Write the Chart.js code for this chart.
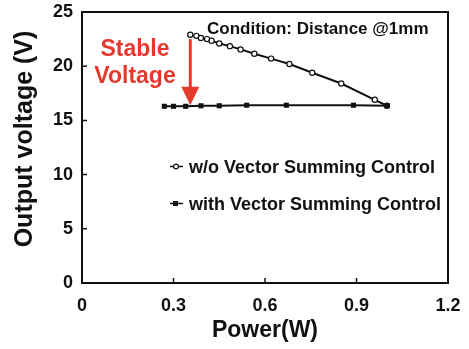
<!DOCTYPE html>
<html>
<head>
<meta charset="utf-8">
<script src="https://cdn.jsdelivr.net/npm/chart.js@4.4.1/dist/chart.umd.min.js"></script>
<style>
  html, body { margin: 0; padding: 0; background: #fff; }
  #wrap { width: 469px; height: 349px; }
</style>
</head>
<body>
<div id="wrap"><canvas id="chart" width="469" height="349"></canvas></div>
<script>
// Output voltage vs. power, with and without vector summing control
const FONT = '"Liberation Sans", Arial, Helvetica, sans-serif';
const INK = '#111';
const RED = '#e5392d';

// w/o Vector Summing Control (open circles)
const woPower   = [0.355, 0.375, 0.39, 0.41, 0.425, 0.45, 0.485, 0.52, 0.565, 0.62, 0.68, 0.755, 0.85, 0.96, 1.0];
const woVoltage = [22.9, 22.8, 22.6, 22.5, 22.35, 22.1, 21.85, 21.55, 21.15, 20.7, 20.2, 19.4, 18.4, 16.9, 16.35];

// with Vector Summing Control (filled squares)
const withPower   = [0.27, 0.30, 0.34, 0.39, 0.45, 0.54, 0.67, 0.89, 1.0];
const withVoltage = [16.3, 16.3, 16.3, 16.35, 16.35, 16.4, 16.4, 16.4, 16.35];

const xTicks = [0, 0.3, 0.6, 0.9, 1.2];
const yTicks = [0, 5, 10, 15, 20, 25];

// "Stable Voltage" arrow, in data units
const arrowAt = { x: 0.355, from: 22.5, head: 18.1, to: 16.4 };

const toPoints = (xs, ys) => xs.map((x, i) => ({ x, y: ys[i] }));

// frame, inward ticks, arrow (under the lines)
const frame = {
  id: 'frame',
  beforeDatasetsDraw(chart) {
    const { ctx, chartArea: a, scales: { x, y } } = chart;
    ctx.save();
    ctx.strokeStyle = INK;
    ctx.lineWidth = 2;
    ctx.strokeRect(a.left, a.top, a.right - a.left, a.bottom - a.top);

    ctx.lineWidth = 1.5;
    ctx.beginPath();
    xTicks.forEach(v => {
      const px = x.getPixelForValue(v);
      ctx.moveTo(px, a.bottom); ctx.lineTo(px, a.bottom - 5);
    });
    yTicks.forEach(v => {
      const py = y.getPixelForValue(v);
      ctx.moveTo(a.left, py); ctx.lineTo(a.left + 5, py);
    });
    ctx.stroke();

    // red arrow
    const ax = x.getPixelForValue(arrowAt.x);
    const y0 = y.getPixelForValue(arrowAt.from);
    const yh = y.getPixelForValue(arrowAt.head);
    const y1 = y.getPixelForValue(arrowAt.to);
    ctx.fillStyle = RED;
    ctx.fillRect(ax - 1.5, y0, 3, yh - y0 + 1);
    ctx.beginPath();
    ctx.moveTo(ax - 9, yh); ctx.lineTo(ax + 9, yh); ctx.lineTo(ax, y1);
    ctx.closePath();
    ctx.fill();
    ctx.restore();
  }
};

// texts: titles, condition note, legend, annotation
const labels = {
  id: 'labels',
  afterDraw(chart) {
    const { ctx } = chart;
    ctx.save();
    ctx.fillStyle = INK;
    ctx.textBaseline = 'alphabetic';

    // axis titles
    ctx.font = `bold 23px ${FONT}`;
    ctx.textAlign = 'center';
    ctx.fillText('Power(W)', 265, 337);
    ctx.save();
    ctx.font = `bold 25px ${FONT}`;
    ctx.translate(32, 139);
    ctx.rotate(-Math.PI / 2);
    ctx.fillText('Output voltage (V)', 0, 0);
    ctx.restore();

    // condition note
    ctx.font = `bold 17px ${FONT}`;
    ctx.textAlign = 'left';
    ctx.fillText('Condition: Distance @1mm', 207, 34);

    // legend
    ctx.font = `bold 18px ${FONT}`;
    const rows = [[0, 173], [1, 210]];
    rows.forEach(([i, by]) => {
      const ds = chart.data.datasets[i];
      const cy = by - 6.5;
      ctx.strokeStyle = INK;
      ctx.lineWidth = 1.5;
      ctx.beginPath(); ctx.moveTo(170, cy); ctx.lineTo(183, cy); ctx.stroke();
      if (ds.pointStyle === 'circle') {
        ctx.fillStyle = '#fff';
        ctx.beginPath(); ctx.arc(176, cy, 2.4, 0, Math.PI * 2); ctx.fill();
        ctx.lineWidth = 1.2; ctx.stroke();
      } else {
        ctx.fillStyle = INK;
        ctx.fillRect(173, cy - 2.5, 5, 5);
      }
      ctx.fillStyle = INK;
      ctx.fillText(ds.label, 189, by);
    });

    // annotation
    ctx.fillStyle = RED;
    ctx.font = `bold 23px ${FONT}`;
    ctx.textAlign = 'center';
    ctx.fillText('Stable', 135, 56);
    ctx.fillText('Voltage', 135, 83);
    ctx.restore();
  }
};

const tickFont = { family: FONT, size: 18, weight: 'bold' };

new Chart(document.getElementById('chart'), {
  type: 'scatter',
  data: {
    datasets: [
      {
        label: 'w/o Vector Summing Control',
        data: toPoints(woPower, woVoltage),
        showLine: true,
        order: 1,
        borderColor: INK,
        borderWidth: 2,
        pointStyle: 'circle',
        pointRadius: 2.6,
        pointBackgroundColor: '#fff',
        pointBorderColor: INK,
        pointBorderWidth: 1.2
      },
      {
        label: 'with Vector Summing Control',
        data: toPoints(withPower, withVoltage),
        showLine: true,
        order: 0,
        borderColor: INK,
        borderWidth: 2,
        pointStyle: 'rect',
        pointRadius: 3.6,
        pointBackgroundColor: INK,
        pointBorderColor: INK,
        pointBorderWidth: 0
      }
    ]
  },
  options: {
    responsive: false,
    animation: false,
    devicePixelRatio: 1,
    layout: { padding: { top: 12, right: 21, left: 0, bottom: 0 } },
    plugins: { legend: { display: false }, tooltip: { enabled: false } },
    scales: {
      x: {
        type: 'linear',
        min: 0,
        max: 1.2,
        afterFit: s => { s.height = 66; s.paddingLeft = 0; s.paddingRight = 0; },
        afterBuildTicks: s => { s.ticks = xTicks.map(v => ({ value: v })); },
        grid: { display: false, drawTicks: false },
        border: { display: false },
        ticks: { padding: 12, color: INK, font: tickFont, maxRotation: 0, autoSkip: false, callback: v => String(v) }
      },
      y: {
        type: 'linear',
        min: 0,
        max: 25,
        afterFit: s => { s.width = 82; s.paddingTop = 0; s.paddingBottom = 0; },
        afterBuildTicks: s => { s.ticks = yTicks.map(v => ({ value: v })); },
        grid: { display: false, drawTicks: false },
        border: { display: false },
        ticks: { padding: 9, color: INK, font: tickFont, callback: v => String(v) }
      }
    }
  },
  plugins: [frame, labels]
});
</script>
</body>
</html>
